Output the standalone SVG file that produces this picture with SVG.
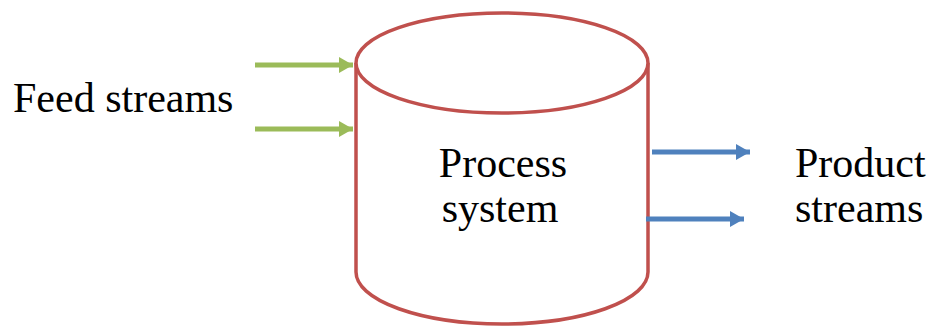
<svg xmlns="http://www.w3.org/2000/svg" width="933" height="328" viewBox="0 0 933 328">
<style>
.t{font-family:"Liberation Serif","Times New Roman",serif;font-size:42px;fill:#000}
.cyl{fill:#fff;stroke:#c0504d;stroke-width:3.5}
.g{stroke:#9bbb59;stroke-width:5;fill:none}
.b{stroke:#4f81bd;stroke-width:5;fill:none}
</style>
<defs>
<marker id="ag" markerUnits="userSpaceOnUse" markerWidth="14" markerHeight="16" refX="14" refY="8" orient="auto"><path d="M0,0 L14,8 L0,16 Z" fill="#9bbb59"/></marker>
<marker id="ab" markerUnits="userSpaceOnUse" markerWidth="14" markerHeight="16" refX="14" refY="8" orient="auto"><path d="M0,0 L14,8 L0,16 Z" fill="#4f81bd"/></marker>
</defs>
<g id="process-system">
<path class="cyl" d="M356,63 L356,272 A146,52 0 0 0 648,272 L648,63"/>
<ellipse class="cyl" cx="502" cy="63" rx="146" ry="50"/>
<text class="t" x="503" y="177" text-anchor="middle">Process</text>
<text class="t" x="500" y="222" text-anchor="middle">system</text>
</g>
<g id="feed-streams">
<text class="t" x="13" y="112">Feed streams</text>
</g>
<g id="product-streams">
<text class="t" x="795" y="177">Product</text>
<text class="t" x="795" y="222">streams</text>
</g>
<g id="connectors">
<line class="g" x1="255" y1="65" x2="353" y2="65" marker-end="url(#ag)"/>
<line class="g" x1="255" y1="129" x2="353" y2="129" marker-end="url(#ag)"/>
<line class="b" x1="652" y1="152" x2="750" y2="152" marker-end="url(#ab)"/>
<line class="b" x1="646" y1="219" x2="744" y2="219" marker-end="url(#ab)"/>
</g>
</svg>
